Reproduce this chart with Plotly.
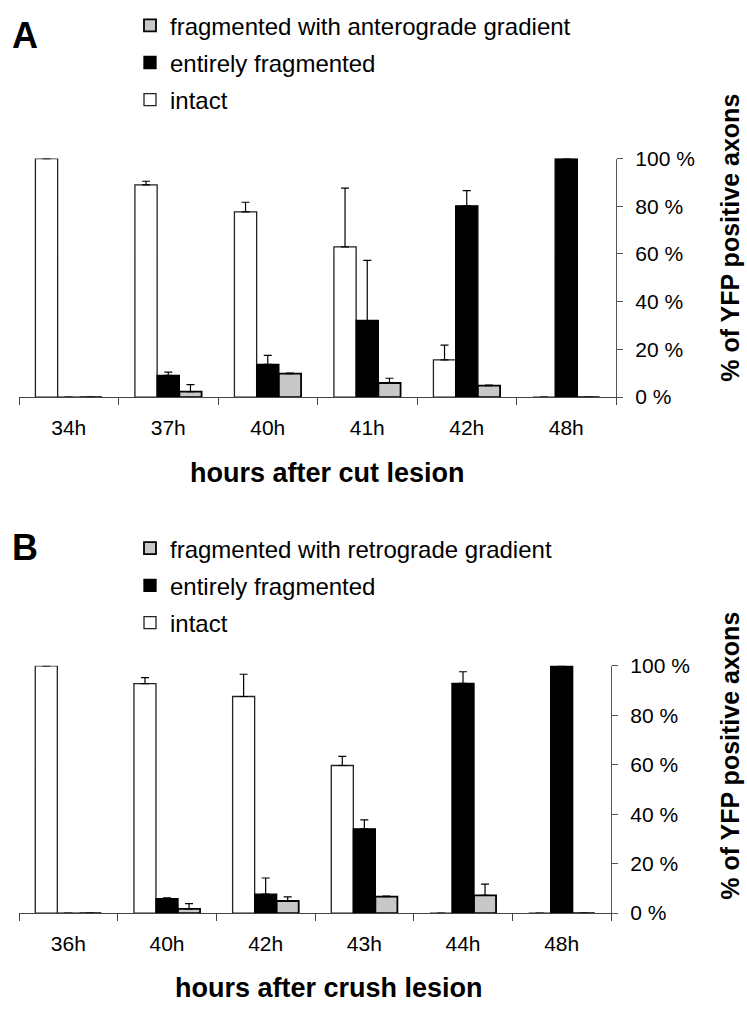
import plotly.graph_objects as go

# ---------------- data ----------------
cut_hours = ["34h", "37h", "40h", "41h", "42h", "48h"]
cut_intact = [100, 89, 77.7, 63, 15.6, 0]
cut_intact_err = [0, 1.5, 4, 24.6, 6.2, 0]
cut_entire = [0, 9.1, 13.7, 32.1, 80.2, 100]
cut_entire_err = [0, 1.4, 3.8, 25.2, 6.4, 0]
cut_antero = [0, 2.3, 9.8, 5.9, 4.8, 0]
cut_antero_err = [0, 2.9, 0.2, 2.0, 0.2, 0]

crush_hours = ["36h", "40h", "42h", "43h", "44h", "48h"]
crush_intact = [100, 92.8, 87.6, 59.7, 0, 0]
crush_intact_err = [0, 2.4, 9, 3.7, 0, 0]
crush_entire = [0, 5.8, 7.7, 34.1, 92.9, 100]
crush_entire_err = [0, 0.4, 6.5, 3.6, 4.7, 0]
crush_retro = [0, 1.7, 4.9, 6.7, 7.2, 0]
crush_retro_err = [0, 2.1, 1.7, 0.2, 4.5, 0]

y_ticks = [0, 20, 40, 60, 80, 100]
y_tick_labels = ["0 %", "20 %", "40 %", "60 %", "80 %", "100 %"]

FONT = "Liberation Sans, Arial, sans-serif"
W, H = 747, 1015
GRAY = "#c8c8c8"


def px_x(p):
    return p / W


def px_y(p):
    return 1 - p / H


def bar(x, y, err, name, fill, line_color, line_w, xa, ya, legend, rank):
    return go.Bar(
        x=x, y=y, name=name,
        marker=dict(color=fill, line=dict(color=line_color, width=line_w)),
        error_y=dict(type="data", symmetric=False, array=err,
                     arrayminus=[0] * len(err), color="black",
                     thickness=1.2, width=4),
        xaxis=xa, yaxis=ya, legend=legend, legendgroup=legend + name,
        legendrank=rank, cliponaxis=False,
    )


fig = go.Figure()
# Panel A
fig.add_trace(bar(cut_hours, cut_intact, cut_intact_err, "intact", "white", "#222", 1.3, "x", "y", "legend", 3))
fig.add_trace(bar(cut_hours, cut_entire, cut_entire_err, "entirely fragmented", "black", "black", 1.3, "x", "y", "legend", 2))
fig.add_trace(bar(cut_hours, cut_antero, cut_antero_err, "fragmented with anterograde gradient", GRAY, "black", 1.8, "x", "y", "legend", 1))
# Panel B
fig.add_trace(bar(crush_hours, crush_intact, crush_intact_err, "intact", "white", "#222", 1.3, "x2", "y2", "legend2", 3))
fig.add_trace(bar(crush_hours, crush_entire, crush_entire_err, "entirely fragmented", "black", "black", 1.3, "x2", "y2", "legend2", 2))
fig.add_trace(bar(crush_hours, crush_retro, crush_retro_err, "fragmented with retrograde gradient", GRAY, "black", 1.8, "x2", "y2", "legend2", 1))

xaxis_common = dict(
    type="category", showline=True, linecolor="#444", linewidth=1,
    ticks="outside", ticklen=7, tickcolor="#444", tickson="boundaries",
    tickfont=dict(family=FONT, size=21, color="black"),
    showgrid=False, zeroline=False, ticklabelstandoff=12,
)
yaxis_common = dict(
    side="right", range=[0, 100], tickvals=y_ticks, ticktext=y_tick_labels,
    showline=True, linecolor="#555", linewidth=1.2, ticks="outside",
    ticklen=6, tickcolor="#555", showgrid=False, zeroline=False,
    tickfont=dict(family=FONT, size=21, color="black"), ticklabelstandoff=8,
)

legend_common = dict(
    font=dict(family=FONT, size=24, color="black"),
    traceorder="grouped", tracegroupgap=3,
    bgcolor="rgba(0,0,0,0)", xanchor="left", yanchor="top",
    itemclick=False, itemdoubleclick=False,
)

fig.update_layout(
    width=W, height=H, margin=dict(l=0, r=0, t=0, b=0),
    paper_bgcolor="white", plot_bgcolor="white",
    barmode="group", bargap=0.33, bargroupgap=0,
    font=dict(family=FONT, color="black"),
    xaxis=dict(domain=[px_x(19), px_x(616)], anchor="y", **xaxis_common),
    yaxis=dict(domain=[px_y(394), px_y(150)], anchor="x", **yaxis_common),
    xaxis2=dict(domain=[px_x(19), px_x(611)], anchor="y2", **xaxis_common),
    yaxis2=dict(domain=[px_y(922), px_y(669)], anchor="x2", **yaxis_common),
    legend=dict(x=px_x(130), y=px_y(-9), **legend_common),
    legend2=dict(x=px_x(130), y=px_y(526), **legend_common),
    showlegend=True,
)

ann = [
    dict(text="<b>A</b>", x=px_x(10), y=px_y(24), font=dict(size=36)),
    dict(text="<b>B</b>", x=px_x(10), y=px_y(548), font=dict(size=36)),
]
for a in ann:
    a.update(xref="paper", yref="paper", xanchor="left", yanchor="middle", showarrow=False)
    a["font"].update(family=FONT, color="black")

titles = [
    dict(text="<b>hours after cut lesion</b>", x=px_x(327), y=px_y(472), textangle=0, size=27),
    dict(text="<b>hours after crush lesion</b>", x=px_x(329), y=px_y(999), textangle=0, size=27),
    dict(text="<b>% of YFP positive axons</b>", x=px_x(730), y=px_y(231), textangle=-90, size=25),
    dict(text="<b>% of YFP positive axons</b>", x=px_x(730), y=px_y(761), textangle=-90, size=25),
]
for t in titles:
    ann.append(dict(text=t["text"], x=t["x"], y=t["y"], textangle=t["textangle"],
                    xref="paper", yref="paper", xanchor="center", yanchor="middle",
                    showarrow=False, font=dict(family=FONT, size=t["size"], color="black")))

fig.update_layout(annotations=ann)

fig.write_html("out.html", config={"displayModeBar": False},
               post_script="document.body.style.margin='0px';")
